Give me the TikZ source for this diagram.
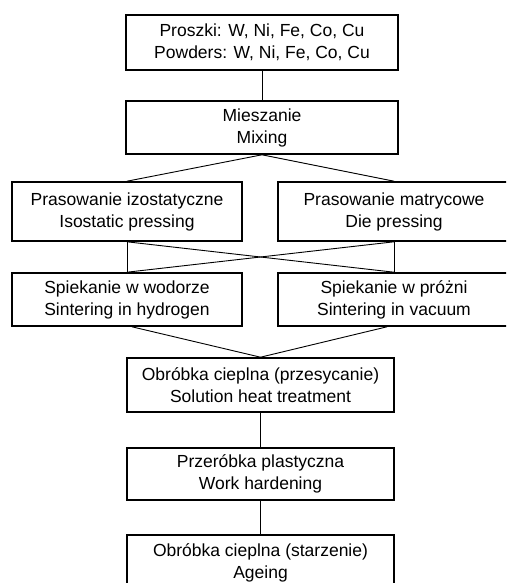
\documentclass[tikz,border=0pt]{standalone}
\usepackage{fontspec}
\setmainfont{Liberation Sans}
\usetikzlibrary{calc}
\begin{document}
\begin{tikzpicture}[x=1pt,y=-1pt,
  box/.style={draw,rectangle,line width=1.6pt,align=center,inner sep=0pt,
    font=\fontsize{17.5}{22}\selectfont},
  conn/.style={line width=0.9pt}]
\useasboundingbox (0,0) rectangle (506,583);
\clip (0,0) rectangle (506,583);
\node[box,minimum width=272pt,minimum height=55pt] (b1) at (262,42.5) {Proszki: W, Ni, Fe, Co, Cu\\Powders: W, Ni, Fe, Co, Cu};
\node[box,minimum width=272pt,minimum height=53pt] (b2) at (262,127.5) {Mieszanie\\Mixing};
\node[box,minimum width=230pt,minimum height=59pt] (b3l) at (127,211.5) {Prasowanie izostatyczne\\Isostatic pressing};
\node[box,minimum width=232pt,minimum height=59pt] (b3r) at (394,211.5) {Prasowanie matrycowe\\Die pressing};
\node[box,minimum width=230pt,minimum height=53pt] (b4l) at (127,299.5) {Spiekanie w wodorze\\Sintering in hydrogen};
\node[box,minimum width=232pt,minimum height=53pt] (b4r) at (394,299.5) {Spiekanie w próżni\\Sintering in vacuum};
\node[box,minimum width=267pt,minimum height=54pt] (b5) at (260.5,385) {Obróbka cieplna (przesycanie)\\Solution heat treatment};
\node[box,minimum width=267pt,minimum height=52pt] (b6) at (260.5,474) {Przeróbka plastyczna\\Work hardening};
\node[box,minimum width=267pt,minimum height=56pt] (b7) at (260.5,563) {Obróbka cieplna (starzenie)\\Ageing};
\coordinate (m1) at ($(b4l.south)+(5,0)$);
\coordinate (m2) at ($(b4r.south)+(-7,0)$);
\draw[conn] (b1.south) -- (b2.north);
\draw[conn] (b2.south) -- (b3l.north);
\draw[conn] (b2.south) -- (b3r.north);
\draw[conn] (b3l.south) -- (b4l.north);
\draw[conn] (b3l.south) -- (b4r.north);
\draw[conn] (b3r.south) -- (b4r.north);
\draw[conn] (b3r.south) -- (b4l.north);
\draw[conn] (m1) -- (b5.north);
\draw[conn] (m2) -- (b5.north);
\draw[conn] (b5.south) -- (b6.north);
\draw[conn] (b6.south) -- (b7.north);
\end{tikzpicture}
\end{document}
